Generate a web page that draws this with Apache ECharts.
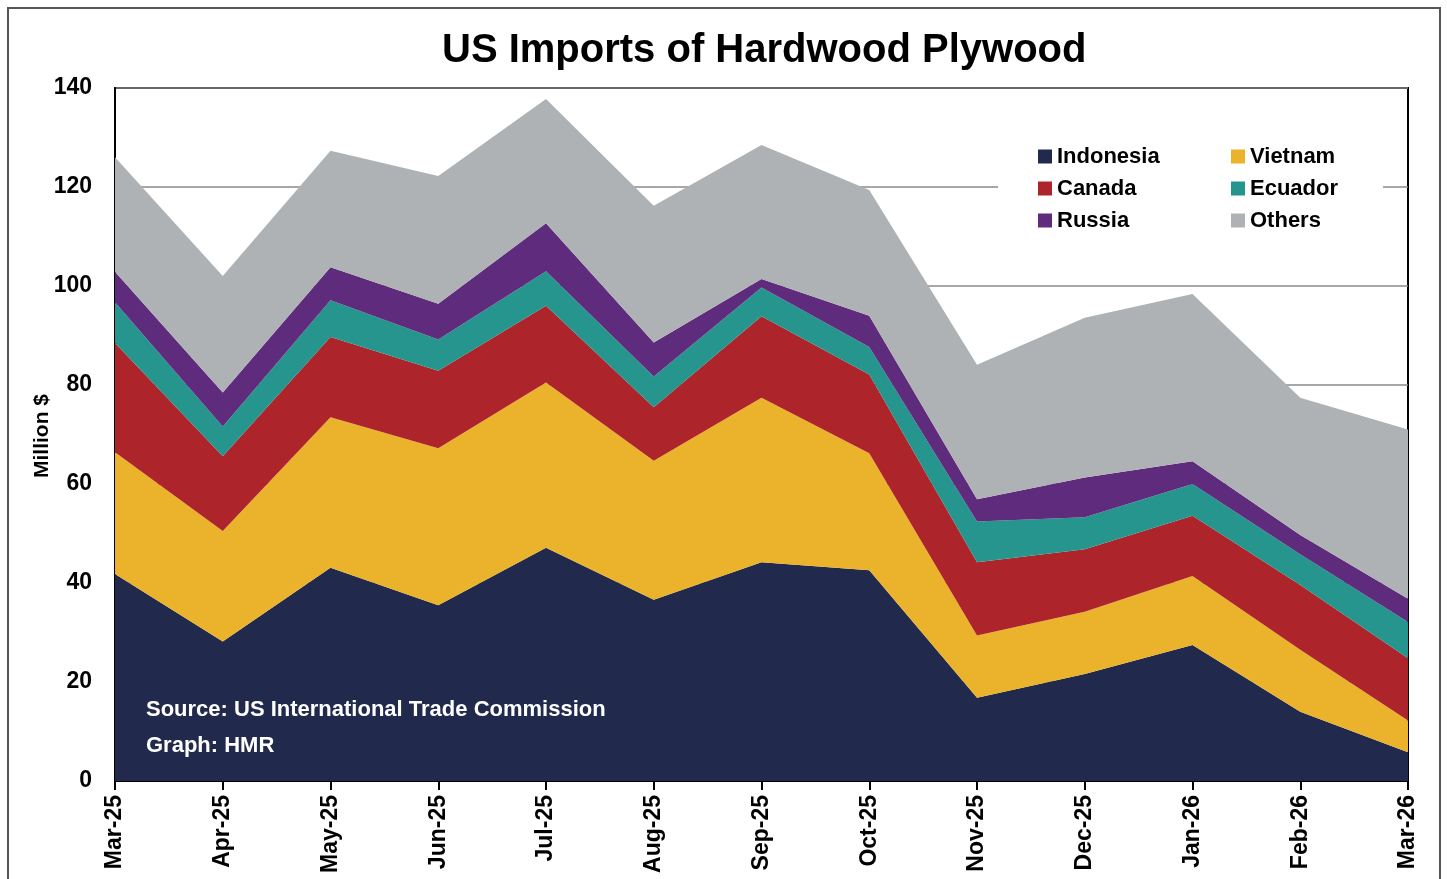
<!DOCTYPE html>
<html>
<head>
<meta charset="utf-8">
<script src="https://cdn.jsdelivr.net/npm/echarts@6/dist/echarts.min.js"></script>
<style>
  html, body { margin: 0; padding: 0; background: #fff; }
  #chart { width: 1447px; height: 879px; }
</style>
</head>
<body>
<div id="chart"></div>
<script>
const months = ['Mar-25','Apr-25','May-25','Jun-25','Jul-25','Aug-25','Sep-25','Oct-25','Nov-25','Dec-25','Jan-26','Feb-26','Mar-26'];
const indonesia = [41.8, 28.2, 43.1, 35.5, 47.1, 36.6, 44.2, 42.6, 16.8, 21.6, 27.5, 14.0, 5.8];
const vietnam   = [24.6, 22.3, 30.4, 31.7, 33.4, 28.1, 33.2, 23.6, 12.6, 12.6, 13.9, 12.5, 6.4];
const canada    = [22.1, 15.1, 16.2, 15.7, 15.5, 10.8, 16.5, 15.9, 14.8, 12.6, 12.2, 13.1, 12.6];
const ecuador   = [8.2, 6.0, 7.4, 6.3, 7.0, 6.2, 5.8, 5.6, 8.2, 6.5, 6.4, 6.2, 7.3];
const russia    = [6.2, 6.9, 6.7, 7.2, 9.7, 6.9, 1.7, 6.3, 4.5, 8.0, 4.6, 3.9, 4.7];
const others    = [23.1, 23.5, 23.5, 25.8, 25.1, 27.6, 27.1, 25.4, 27.2, 32.3, 33.8, 27.7, 34.2];
const yTicks = [0, 20, 40, 60, 80, 100, 120, 140];

const FONT = "'Liberation Sans Narrow', 'Arial Narrow', 'Liberation Sans', Arial, sans-serif";
const seriesDefs = [
  ['Indonesia', indonesia, '#212A4C'],
  ['Vietnam', vietnam, '#EBB32B'],
  ['Canada', canada, '#AD242A'],
  ['Ecuador', ecuador, '#25958E'],
  ['Russia', russia, '#5F2B7C'],
  ['Others', others, '#AFB2B4']
];

const chart = echarts.init(document.getElementById('chart'), null, { renderer: 'canvas' });
const legendText = { fontFamily: FONT, fontWeight: 'bold', fontSize: 22, lineHeight: 23, color: '#000' };
chart.setOption({
  animation: false,
  backgroundColor: '#fff',
  title: {
    text: 'US Imports of Hardwood Plywood',
    left: 437,
    top: 26,
    textStyle: { fontFamily: FONT, fontWeight: 'bold', fontSize: 40, color: '#000' }
  },
  grid: {
    left: 115, right: 39, top: 88, bottom: 98,
    show: true, borderColor: '#000', borderWidth: 2, backgroundColor: 'transparent'
  },
  legend: [
    {
      data: ['Indonesia', 'Canada', 'Russia'],
      orient: 'vertical', left: 1033, top: 140,
      itemWidth: 14, itemHeight: 14, itemGap: 9,
      icon: 'rect', textStyle: legendText, z: 10
    },
    {
      data: ['Vietnam', 'Ecuador', 'Others'],
      orient: 'vertical', left: 1226, top: 140,
      itemWidth: 14, itemHeight: 14, itemGap: 9,
      icon: 'rect', textStyle: legendText, z: 10
    }
  ],
  graphic: [
    { type: 'rect', z: 5, shape: { x: 998, y: 130, width: 385, height: 112 }, style: { fill: '#fff' } },
    { type: 'rect', z: 100, silent: true, shape: { x: 8, y: 8, width: 1432, height: 900 }, style: { fill: 'none', stroke: '#555', lineWidth: 2 } },
    { type: 'text', z: 20, left: 146, top: 699, style: { text: 'Source: US International Trade Commission', fill: '#fff', font: 'bold 22px ' + FONT } },
    { type: 'text', z: 20, left: 146, top: 735, style: { text: 'Graph: HMR', fill: '#fff', font: 'bold 22px ' + FONT } },
    { type: 'text', z: 20, x: 42, y: 436, rotation: Math.PI / 2,
      style: { text: 'Million $', fill: '#000', font: 'bold 21px ' + FONT, textAlign: 'center', textVerticalAlign: 'middle' } }
  ],
  xAxis: {
    type: 'category',
    data: months,
    boundaryGap: false,
    axisLine: { lineStyle: { color: '#000', width: 2 } },
    axisTick: { show: true, length: 9, alignWithLabel: true, lineStyle: { color: '#000', width: 2 }, interval: 0 },
    axisLabel: { rotate: 90, interval: 0, margin: 14, fontFamily: FONT, fontWeight: 'bold', fontSize: 23, color: '#000' },
    splitLine: { show: false }
  },
  yAxis: {
    type: 'value',
    min: 0, max: 140, interval: 20,
    axisLine: { show: true, lineStyle: { color: '#000', width: 2 } },
    axisTick: { show: false },
    axisLabel: {
      margin: 23, fontFamily: FONT, fontWeight: 'bold', fontSize: 23, color: '#000',
      formatter: v => yTicks.includes(v) ? String(v) : ''
    },
    splitLine: { show: true, lineStyle: { color: '#8a8a8a', width: 1.5 } }
  },
  series: seriesDefs.map(([name, data, color]) => ({
    name, type: 'line', stack: 'total', data,
    symbol: 'none', smooth: false,
    lineStyle: { width: 0, color },
    itemStyle: { color },
    areaStyle: { color, opacity: 1 },
    emphasis: { disabled: true }
  }))
});
</script>
</body>
</html>
